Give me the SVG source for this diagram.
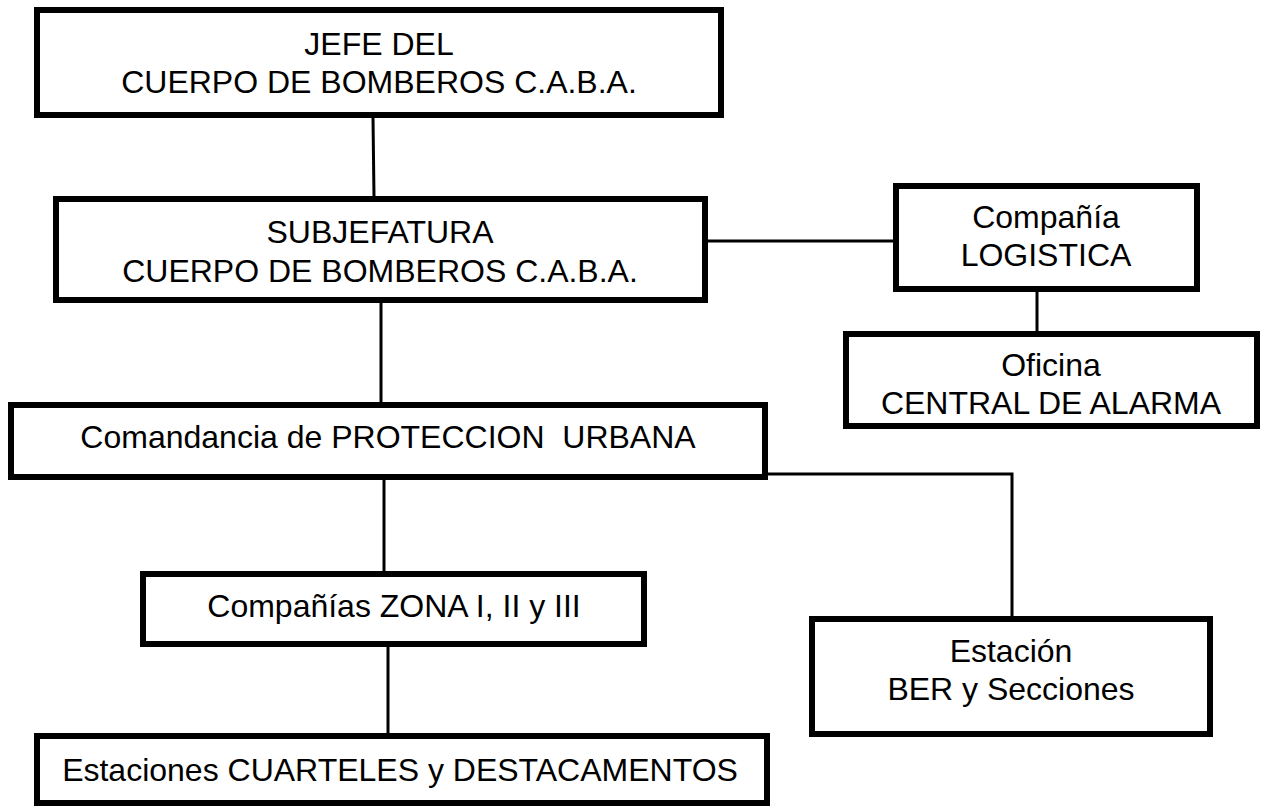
<svg xmlns="http://www.w3.org/2000/svg" width="1262" height="807" viewBox="0 0 1262 807">
<style>
.box{fill:#fff;stroke:#000;stroke-width:6}
.t{font-family:"Liberation Sans",Arial,sans-serif;font-size:32px;fill:#000;text-anchor:middle}
.c{fill:none;stroke:#000;stroke-width:3}
</style>
<rect width="1262" height="807" fill="#fff"/>
<g id="connectors">
<line class="c" x1="373" y1="118" x2="374" y2="197"/>
<line class="c" x1="708" y1="241" x2="894" y2="241"/>
<line class="c" x1="1037" y1="292" x2="1037" y2="332"/>
<line class="c" x1="381" y1="302" x2="381" y2="404"/>
<line class="c" x1="384" y1="479" x2="384" y2="572"/>
<line class="c" x1="388" y1="647" x2="388" y2="734"/>
<polyline class="c" points="768,474 1012,474 1012,617"/>
</g>
<g id="jefe">
<rect class="box" x="37" y="10" width="684" height="105"/>
<text class="t" x="379" y="55">JEFE DEL</text>
<text class="t" x="379" y="93">CUERPO DE BOMBEROS C.A.B.A.</text>
</g>
<g id="subjefatura">
<rect class="box" x="56" y="199" width="649" height="101"/>
<text class="t" x="380" y="243">SUBJEFATURA</text>
<text class="t" x="380" y="282">CUERPO DE BOMBEROS C.A.B.A.</text>
</g>
<g id="logistica">
<rect class="box" x="896" y="186" width="301" height="103"/>
<text class="t" x="1046" y="228">Compañía</text>
<text class="t" x="1046" y="266">LOGISTICA</text>
</g>
<g id="alarma">
<rect class="box" x="846" y="334" width="411" height="92"/>
<text class="t" x="1051" y="376">Oficina</text>
<text class="t" x="1051" y="414">CENTRAL DE ALARMA</text>
</g>
<g id="comandancia">
<rect class="box" x="11" y="405" width="754" height="72"/>
<text class="t" x="388" y="448" xml:space="preserve">Comandancia de PROTECCION  URBANA</text>
</g>
<g id="zonas">
<rect class="box" x="143" y="574" width="501" height="70"/>
<text class="t" x="394" y="617">Compañías ZONA I, II y III</text>
</g>
<g id="ber">
<rect class="box" x="812" y="619" width="398" height="115"/>
<text class="t" x="1011" y="662">Estación</text>
<text class="t" x="1011" y="700">BER y Secciones</text>
</g>
<g id="estaciones">
<rect class="box" x="37" y="736" width="730" height="67"/>
<text class="t" x="400" y="781">Estaciones CUARTELES y DESTACAMENTOS</text>
</g>
</svg>
